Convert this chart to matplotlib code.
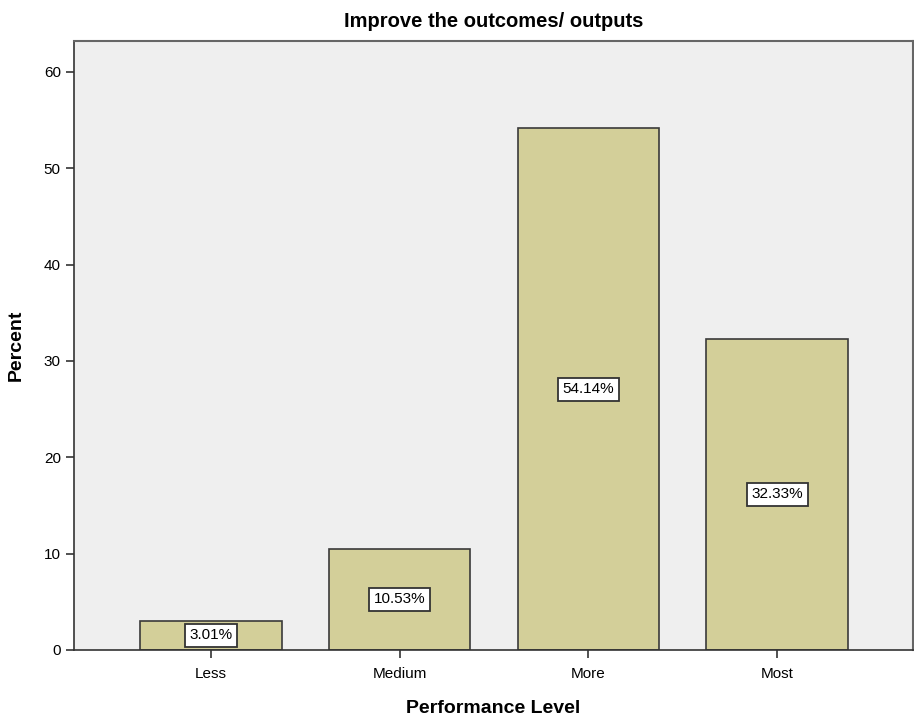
import matplotlib
matplotlib.use("Agg")
import matplotlib.pyplot as plt

# Performance level shares
levels = ["Less", "Medium", "More", "Most"]
percents = [3.01, 10.53, 54.14, 32.33]

plt.rcParams['font.family'] = ['Liberation Sans', 'DejaVu Sans']

fig = plt.figure(figsize=(9.14, 7.21), dpi=100)
ax = fig.add_axes([0.081, 0.0985, 0.918, 0.8445])
ax.set_facecolor("#efefef")

x = range(len(levels))
ax.bar(x, percents, width=0.75, color="#d3cf99", edgecolor="#3a3a3a", linewidth=1.2, zorder=2)

for xi, p in zip(x, percents):
    ax.text(xi, p / 2, f"{p:.2f}%", ha="center", va="center", fontsize=11,
            bbox=dict(boxstyle="square,pad=0.3", facecolor="white", edgecolor="#333333", linewidth=1.3),
            zorder=3)

ax.set_xlim(-0.725, 3.72)
ax.set_ylim(0, 63.2)
ax.set_xticks(list(x))
ax.set_xticklabels(levels)
ax.set_yticks([0, 10, 20, 30, 40, 50, 60])
ax.tick_params(axis="both", direction="out", length=6, width=1.2, labelsize=11, color="#333333")
ax.tick_params(axis="x", pad=6)

for side in ["top", "right"]:
    ax.spines[side].set_color("#666666")
    ax.spines[side].set_linewidth(1.5)
for side in ["left", "bottom"]:
    ax.spines[side].set_color("#333333")
    ax.spines[side].set_linewidth(1.2)

ax.set_title("Improve the outcomes/ outputs", fontsize=14.5, fontweight="bold", pad=10)
ax.set_xlabel("Performance Level", fontsize=14, fontweight="bold", labelpad=14)
ax.set_ylabel("Percent", fontsize=14, fontweight="bold", labelpad=14)

fig.savefig("out.png", dpi=100)
